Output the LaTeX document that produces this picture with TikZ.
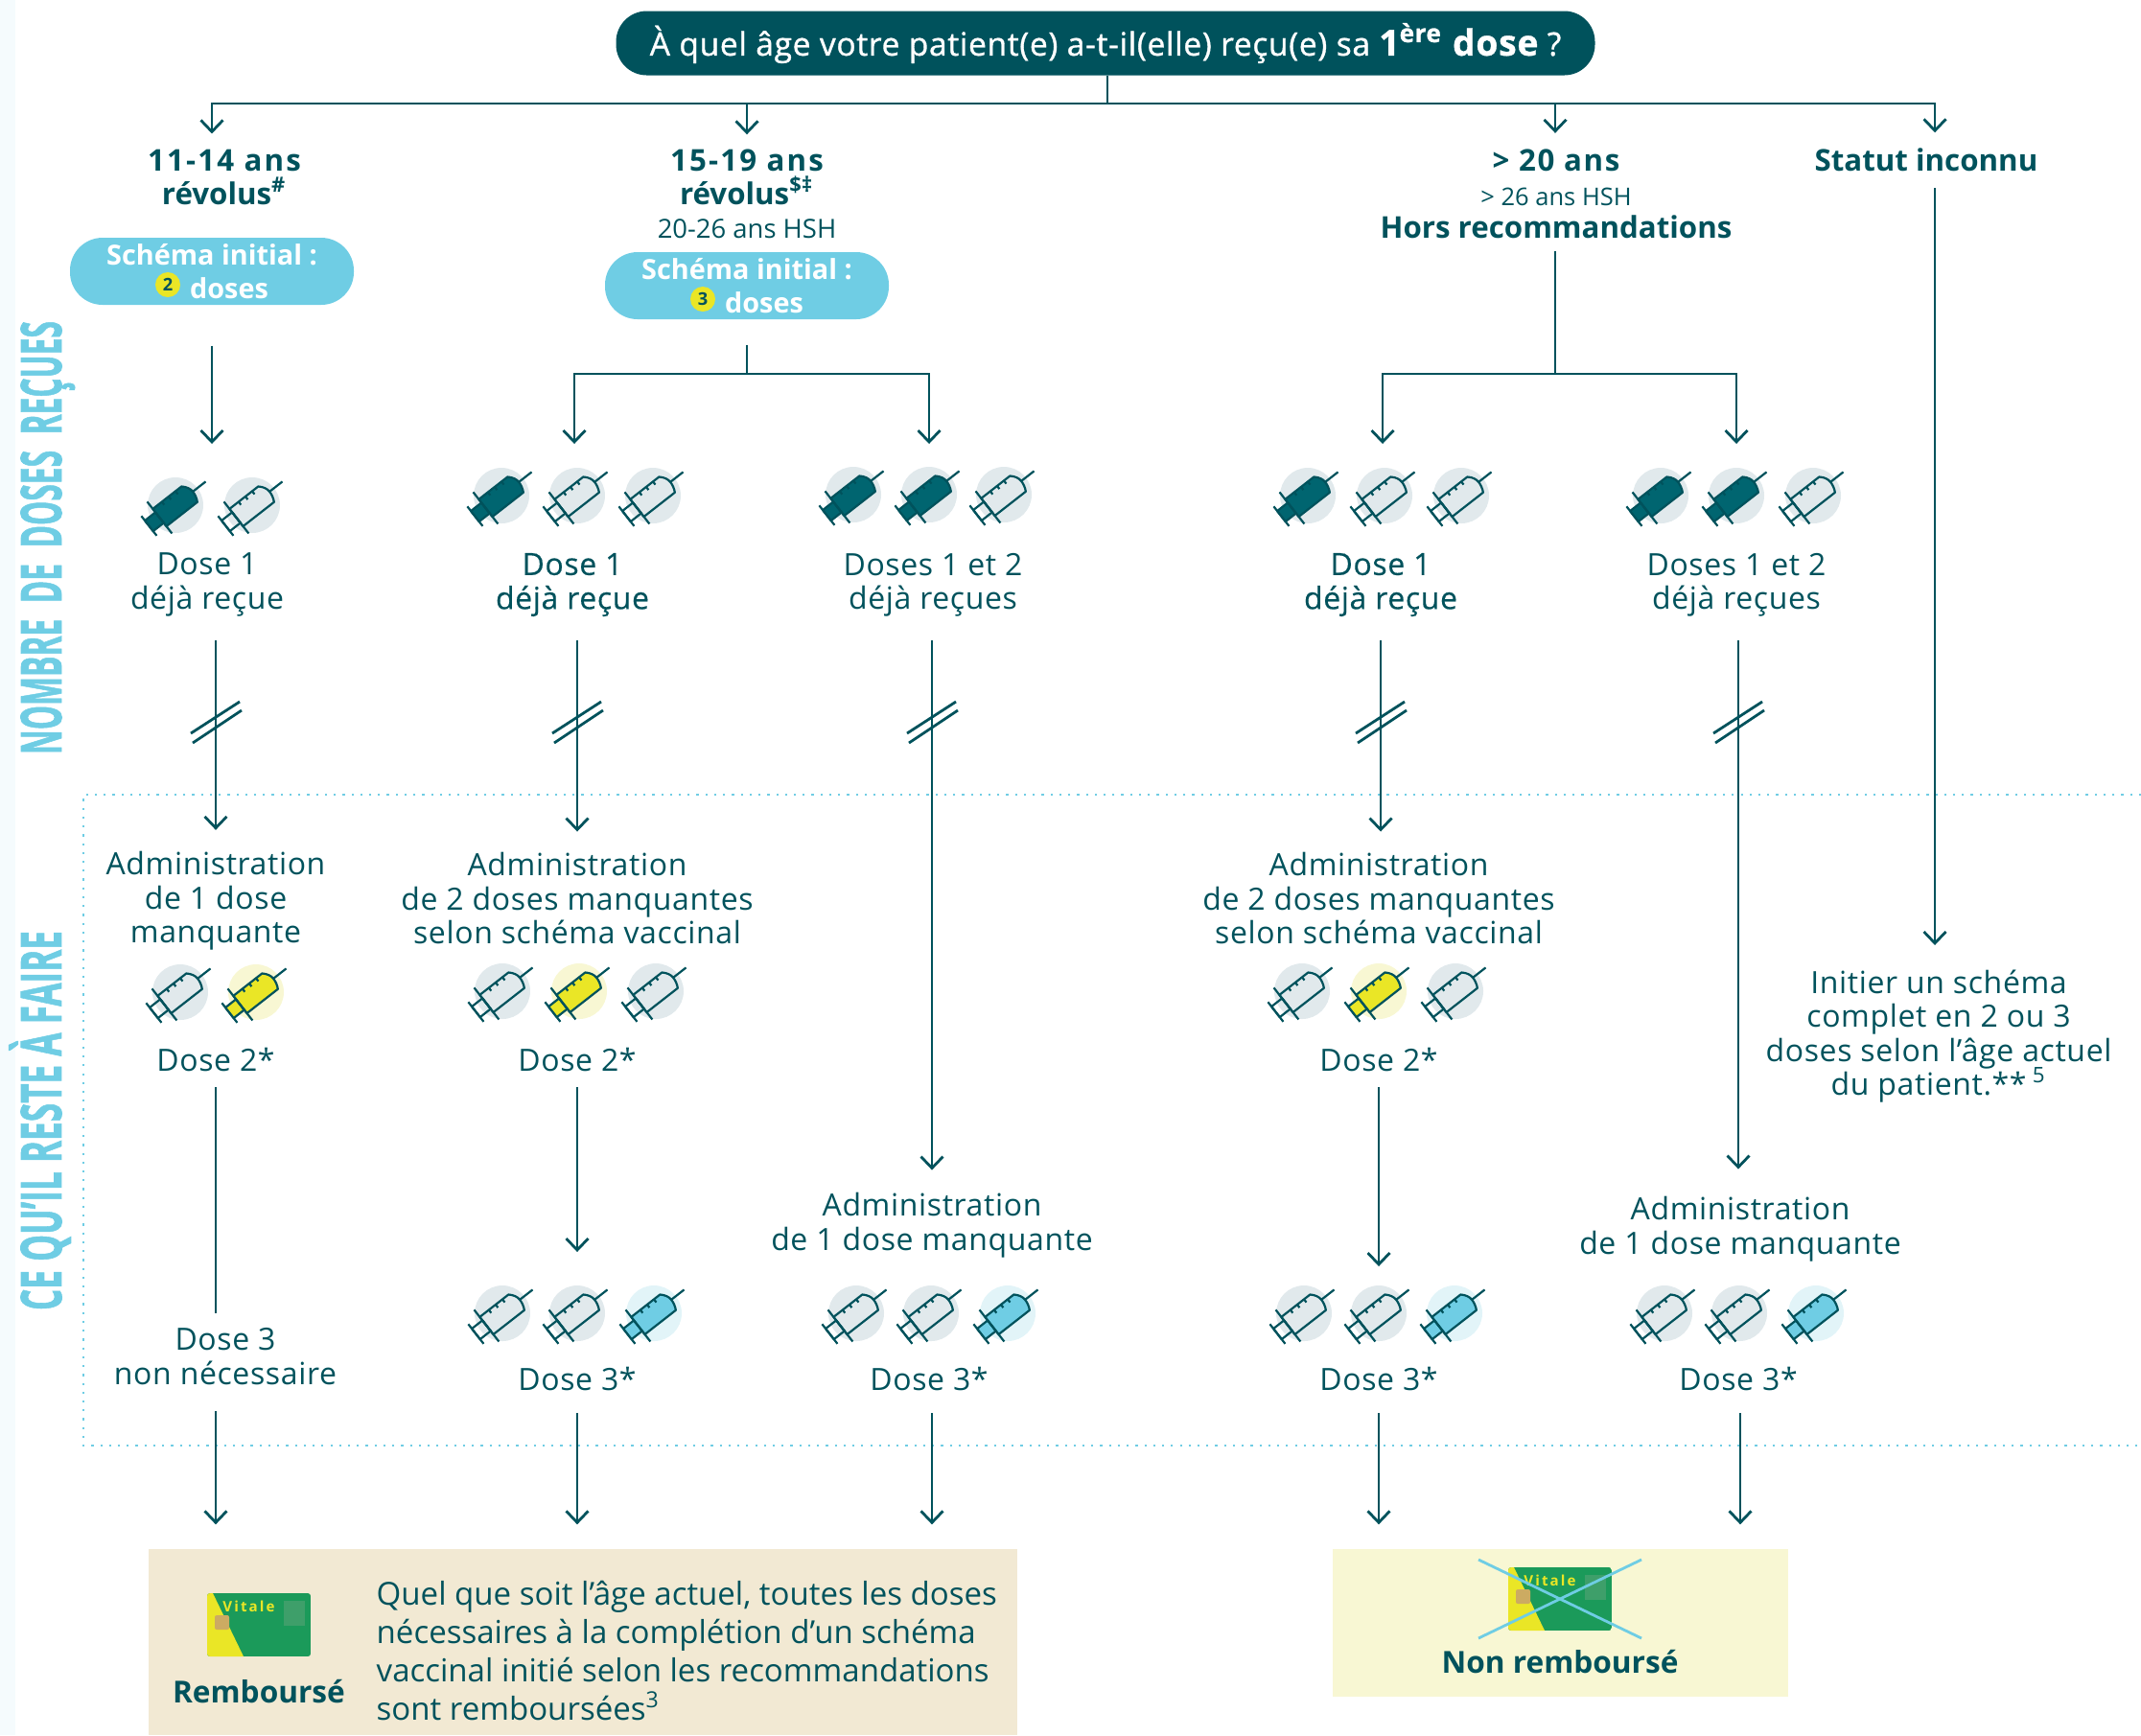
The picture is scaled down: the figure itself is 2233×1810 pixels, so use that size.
\documentclass[tikz,border=0pt]{standalone}
\usepackage{fontspec}
\setmainfont{Open Sans}
\usetikzlibrary{arrows.meta}
\definecolor{ink}{HTML}{00525C}
\definecolor{syfull}{HTML}{006570}
\definecolor{sky}{HTML}{6FCDE4}
\definecolor{lemon}{HTML}{EAE626}
\definecolor{cgray}{HTML}{E1E9EC}
\definecolor{cyel}{HTML}{F8F7D3}
\definecolor{cblue}{HTML}{E2F4F8}
\definecolor{beige}{HTML}{F2E9D3}
\definecolor{cardgreen}{HTML}{1B9A5A}
\definecolor{cardpale}{HTML}{3E9F6A}
\definecolor{chip}{HTML}{CCAB62}
\definecolor{strip}{HTML}{F5FBFD}

\begin{document}
\begin{tikzpicture}
      [x = 0.1mm, y = -0.1mm,
      line/.style={draw = ink, line width = 0.28mm},
      arr/.style={line, -{Straight Barb[length = 1.2mm, width = 2.3mm, line width = 0.28mm]}},
      txt/.style= {
         text = ink,
         align = center,
         inner sep = 0pt,
         font = \fontsize{9.1}{10.1}\selectfont\addfontfeature{LetterSpace=2}
      },
      mid/.style= {
         txt,
         font = \fontsize{9.1}{10.1}\selectfont\addfontfeature{LetterSpace=2,FakeBold=0.4}
      },
      big/.style= {
         txt,
         font = \fontsize{8.9}{10}\selectfont\bfseries
      },
      small/.style= {
         txt,
         font = \fontsize{7.8}{9}\selectfont
      },
      scheme/.style= {
         fill = sky,
         text = white,
         align = center,
         rounded corners = 3.4mm,
         minimum width = 29.6mm,
         minimum height = 7mm,
         inner sep = 0pt,
         font = \fontsize{8.2}{9.8}\selectfont\bfseries
      },
      numdot/.style= {
         fill = lemon,
         text = ink,
         circle,
         inner sep = 0pt,
         minimum size = 2.6mm,
         font = \fontsize{5.2}{6}\selectfont\bfseries
      },
      pics/sy/.style n args={2}{code={
         \fill[#1] (0,0) circle (29);
         \begin{scope}[rotate = 38, line width = 0.22mm, draw = ink, line join = round]
            \draw (-35,-13) -- (-35,13);
            \filldraw[fill = #2] (-35,-7) rectangle (-21,7);
            \filldraw[fill = #2] (-21,-11.5) -- (17,-11.5)
               .. controls (21,-8) and (23,-4) .. (23,0)
               .. controls (23,4) and (22,8) .. (20,11.5) -- (-21,11.5) -- cycle;
            \draw (-21,-21) -- (-21,21);
            \draw (23,0) -- (40,0);
            \draw (-9,-11.5) -- (-9,-7.5) (0,-11.5) -- (0,-7.5) (9,-11.5) -- (9,-7.5);
         \end{scope}
      }},
      pics/sydone/.style={sy={cgray}{syfull}},
      pics/syempty/.style={sy={cgray}{none}},
      pics/sytwo/.style={sy={cyel}{lemon}},
      pics/sythree/.style={sy={cblue}{sky}},
      pics/brk/.style={code={
         \draw[line] (-26,12) -- (25,-21);
         \draw[line] (-24,22) -- (27,-12);
      }},
      pics/vitale/.style={code={
         \begin{scope}
            \clip[rounded corners = 0.3mm] (0,0) rectangle (108,66);
            \fill[cardgreen] (0,0) rectangle (108,66);
            \fill[lemon] (0,0) -- (6,0) -- (38,66) -- (0,66) -- cycle;
         \end{scope}
         \fill[chip, rounded corners = 0.2mm] (8,23) rectangle (23,38);
         \fill[cardpale] (80,8) rectangle (102,34);
         \node[text = lemon, inner sep = 0pt, font = \fontsize{4.3}{5}\selectfont\bfseries\addfontfeature{LetterSpace=14}] (word) at (43.5,14) {Vitale};
      }}]

      \useasboundingbox (0,0) rectangle (2233,1810);
      \fill[strip] (0,0) rectangle (16,1810);

      % side labels and dotted frame
      \node[text = sky, anchor = base, rotate = 90, inner sep = 0pt] (sideTop) at (64,561)
         {\resizebox{45.2mm}{\height}{\fontsize{16.7}{20}\selectfont\bfseries\addfontfeature{FakeBold=1.5}NOMBRE\ \ DE\ \ DOSES\ \ REÇUES}};
      \node[text = sky, anchor = base, rotate = 90, inner sep = 0pt] (sideBot) at (64,1169)
         {\resizebox{39.6mm}{\height}{\fontsize{16.7}{20}\selectfont\bfseries\addfontfeature{FakeBold=1.5}CE QU’IL RESTE À FAIRE}};
      \draw[sky, line width = 0.22mm, dotted] (2233,829) -- (87,829) -- (87,1508) -- (2233,1508);

      % question and ages
      \node[fill = ink, text = white, rounded corners = 3.2mm, minimum width = 102.1mm, minimum height = 6.7mm,
         inner sep = 0pt, font = \fontsize{9.55}{10}\selectfont\addfontfeature{LetterSpace=2,FakeBold=1}] (top) at (1153,45)
         {À quel âge votre patient(e) a-t-il(elle) reçu(e) sa {\fontsize{10.6}{10}\selectfont\bfseries 1\textsuperscript{ère} dose} ?};

      \node[big] (ageA) at (234,185) {{\addfontfeature{LetterSpace=7}11-14 ans}\\révolus\textsuperscript{\#}};
      \node[big] (ageB) at (779,185) {{\addfontfeature{LetterSpace=7}15-19 ans}\\révolus\textsuperscript{\$‡}};
      \node[small] (hshB) at (779,239) {20-26 ans HSH};
      \node[big] (ageC) at (1623,167) {\addfontfeature{LetterSpace=5}> 20 ans};
      \node[small, font = \fontsize{7.25}{8}\selectfont] (hshC) at (1623,205) {> 26 ans HSH};
      \node[big] (horsC) at (1623,237) {Hors recommandations};
      \node[big] (ageD) at (2009,167) {Statut inconnu};

      \node[scheme] (schA) at (221,283) {Schéma initial :\\\hspace*{3.6mm}doses};
      \node[numdot] (numA) at (175,297) {2};
      \node[scheme] (schB) at (779,298) {Schéma initial :\\\hspace*{3.6mm}doses};
      \node[numdot] (numB) at (733,312) {3};

      \coordinate (bus) at (1155,108);
      \coordinate (colA) at (221,108);
      \coordinate (colC) at (1622,108);
      \coordinate (colD) at (2018,108);
      \draw[line] (top.south -| bus) -- (bus);
      \draw[arr, shorten >= 1.6mm] (bus) -| (ageA.north -| colA);
      \draw[arr, shorten >= 1.5mm] (bus) -| (ageB.north);
      \draw[arr, shorten >= 1.6mm] (bus) -| (ageC.north -| colC);
      \draw[arr, shorten >= 1.6mm] (bus) -| (ageD.north -| colD);

      % branches down to the doses received
      \coordinate (tipA) at (221,463);
      \coordinate (forkB) at (779,390);
      \coordinate (tipB1) at (599,463);
      \coordinate (tipB2) at (969,463);
      \coordinate (forkC) at (1622,390);
      \coordinate (tipC1) at (1442,463);
      \coordinate (tipC2) at (1811,463);
      \draw[arr, shorten <= 4.2mm] (schA.south -| tipA) -- (tipA);
      \draw[line, shorten <= 2.6mm] (schB.south) -- (forkB);
      \draw[arr] (forkB) -| (tipB1);
      \draw[arr] (forkB) -| (tipB2);
      \draw[line, shorten <= 1.2mm] (horsC.south -| forkC) -- (forkC);
      \draw[arr] (forkC) -| (tipC1);
      \draw[arr] (forkC) -| (tipC2);

      % doses received
      \pic at (183,527) {sydone};
      \pic at (263,527) {syempty};
      \pic at (523,517) {sydone};
      \pic at (602,517) {syempty};
      \pic at (681,517) {syempty};
      \pic at (890,516) {sydone};
      \pic at (969,516) {sydone};
      \pic at (1047,516) {syempty};
      \pic at (1364,517) {sydone};
      \pic at (1444,517) {syempty};
      \pic at (1524,517) {syempty};
      \pic at (1732,517) {sydone};
      \pic at (1811,517) {sydone};
      \pic at (1891,517) {syempty};

      \node[txt] (doseA) at (216,610) {Dose 1\\déjà reçue};
      \node[mid] (doseB) at (597,610) {Dose 1\\déjà reçue};
      \node[txt] (doseC) at (973,610) {Doses 1 et 2\\déjà reçues};
      \node[mid] (doseD) at (1440,610) {Dose 1\\déjà reçue};
      \node[txt] (doseE) at (1811,610) {Doses 1 et 2\\déjà reçues};

      % what remains to do
      \node[txt] (adminA) at (225,940) {Administration\\de 1 dose\\manquante};
      \node[txt] (adminB) at (602,937) {Administration\\de 2 doses manquantes\\selon schéma vaccinal};
      \node[txt] (adminC) at (972,1278) {Administration\\de 1 dose manquante};
      \node[txt] (adminD) at (1438,937) {Administration\\de 2 doses manquantes\\selon schéma vaccinal};
      \node[txt] (adminE) at (1815,1282) {Administration\\de 1 dose manquante};
      \node[txt] (initD) at (2022,1081) {Initier un schéma\\complet en 2 ou 3\\doses selon l’âge actuel\\du patient.**\smash{\textsuperscript{ 5}}};

      \coordinate (colBa) at (225,0);
      \coordinate (colBb) at (602,0);
      \coordinate (colBc) at (972,0);
      \coordinate (colBd) at (1440,0);
      \coordinate (colBe) at (1813,0);
      \draw[arr, shorten <= 2.4mm, shorten >= 2.2mm] (doseA.south -| colBa) -- (adminA.north -| colBa);
      \draw[arr, shorten <= 2.4mm, shorten >= 2.1mm] (doseB.south -| colBb) -- (adminB.north -| colBb);
      \draw[arr, shorten <= 2.4mm, shorten >= 2.3mm] (doseC.south -| colBc) -- (adminC.north -| colBc);
      \draw[arr, shorten <= 2.4mm, shorten >= 2.1mm] (doseD.south -| colBd) -- (adminD.north -| colBd);
      \draw[arr, shorten <= 2.4mm, shorten >= 2.8mm] (doseE.south -| colBe) -- (adminE.north -| colBe);
      \draw[arr, shorten <= 1.65mm, shorten >= 2.5mm] (ageD.south -| colD) -- (initD.north -| colD);

      \pic at (225,753) {brk};
      \pic at (602,753) {brk};
      \pic at (972,753) {brk};
      \pic at (1440,753) {brk};
      \pic at (1813,753) {brk};

      \pic at (188,1035) {syempty};
      \pic at (267,1035) {sytwo};
      \pic at (524,1034) {syempty};
      \pic at (604,1034) {sytwo};
      \pic at (684,1034) {syempty};
      \pic at (1358,1034) {syempty};
      \pic at (1438,1034) {sytwo};
      \pic at (1518,1034) {syempty};

      \node[txt] (twoA) at (225,1105) {Dose 2*};
      \node[txt] (twoB) at (602,1105) {Dose 2*};
      \node[txt] (twoD) at (1438,1105) {Dose 2*};

      \node[txt] (noneA) at (235,1415) {Dose 3\\non nécessaire};
      \coordinate (tipB3) at (602,1306);
      \coordinate (tipD3) at (1438,1321);
      \draw[line, shorten <= 1.6mm, shorten >= 1.5mm] (twoA.south) -- (noneA.north -| twoA);
      \draw[arr, shorten <= 1.6mm] (twoB.south) -- (tipB3);
      \draw[arr, shorten <= 1.6mm] (twoD.south) -- (tipD3);

      \pic at (524,1370) {syempty};
      \pic at (602,1370) {syempty};
      \pic at (682,1370) {sythree};
      \pic at (893,1370) {syempty};
      \pic at (971,1370) {syempty};
      \pic at (1051,1370) {sythree};
      \pic at (1360,1370) {syempty};
      \pic at (1438,1370) {syempty};
      \pic at (1517,1370) {sythree};
      \pic at (1736,1370) {syempty};
      \pic at (1814,1370) {syempty};
      \pic at (1894,1370) {sythree};

      \node[txt] (threeB) at (602,1438) {Dose 3*};
      \node[txt] (threeC) at (969,1438) {Dose 3*};
      \node[txt] (threeD) at (1438,1438) {Dose 3*};
      \node[txt] (threeE) at (1813,1438) {Dose 3*};

      % reimbursement boxes
      \node[fill = beige, minimum width = 90.6mm, minimum height = 19.4mm, inner sep = 0pt] (boxYes) at (608,1713) {};
      \node[fill = cyel, minimum width = 47.5mm, minimum height = 15.4mm, inner sep = 0pt] (boxNo) at (1627.5,1693) {};

      \coordinate (colCa) at (225,0);
      \coordinate (colCe) at (1815,0);
      \draw[arr, shorten <= 2.7mm, shorten >= 2.5mm] (noneA.south -| colCa) -- (boxYes.north -| colCa);
      \draw[arr, shorten <= 2.3mm, shorten >= 2.5mm] (threeB.south) -- (boxYes.north -| threeB);
      \draw[arr, shorten <= 2.3mm, shorten >= 2.5mm] (threeC.south -| colBc) -- (boxYes.north -| colBc);
      \draw[arr, shorten <= 2.3mm, shorten >= 2.5mm] (threeD.south) -- (boxNo.north -| threeD);
      \draw[arr, shorten <= 2.3mm, shorten >= 2.5mm] (threeE.south -| colCe) -- (boxNo.north -| colCe);

      \pic (cardYes) at (216,1662) {vitale};
      \node[big, font = \fontsize{9}{10}\selectfont\bfseries] (paidYes) at (270,1764) {Remboursé};
      \node[txt, anchor = west, align = left, font = \fontsize{9.4}{11.38}\selectfont] (noteYes) at (392,1722)
         {Quel que soit l’âge actuel, toutes les doses\\nécessaires à la complétion d’un schéma\\vaccinal initié selon les recommandations\\sont remboursées\smash{\textsuperscript{3}}};

      \pic (cardNo) at (1573,1635) {vitale};
      \coordinate (crossA) at (1542,1627);
      \coordinate (crossB) at (1712,1709);
      \coordinate (crossC) at (1542,1709);
      \coordinate (crossD) at (1712,1627);
      \draw[sky, line width = 0.28mm] (crossA) -- (crossB);
      \draw[sky, line width = 0.28mm] (crossC) -- (crossD);
      \node[big, font = \fontsize{9}{10}\selectfont\bfseries] (paidNo) at (1627,1733) {Non remboursé};

   \end{tikzpicture}
\end{document}
